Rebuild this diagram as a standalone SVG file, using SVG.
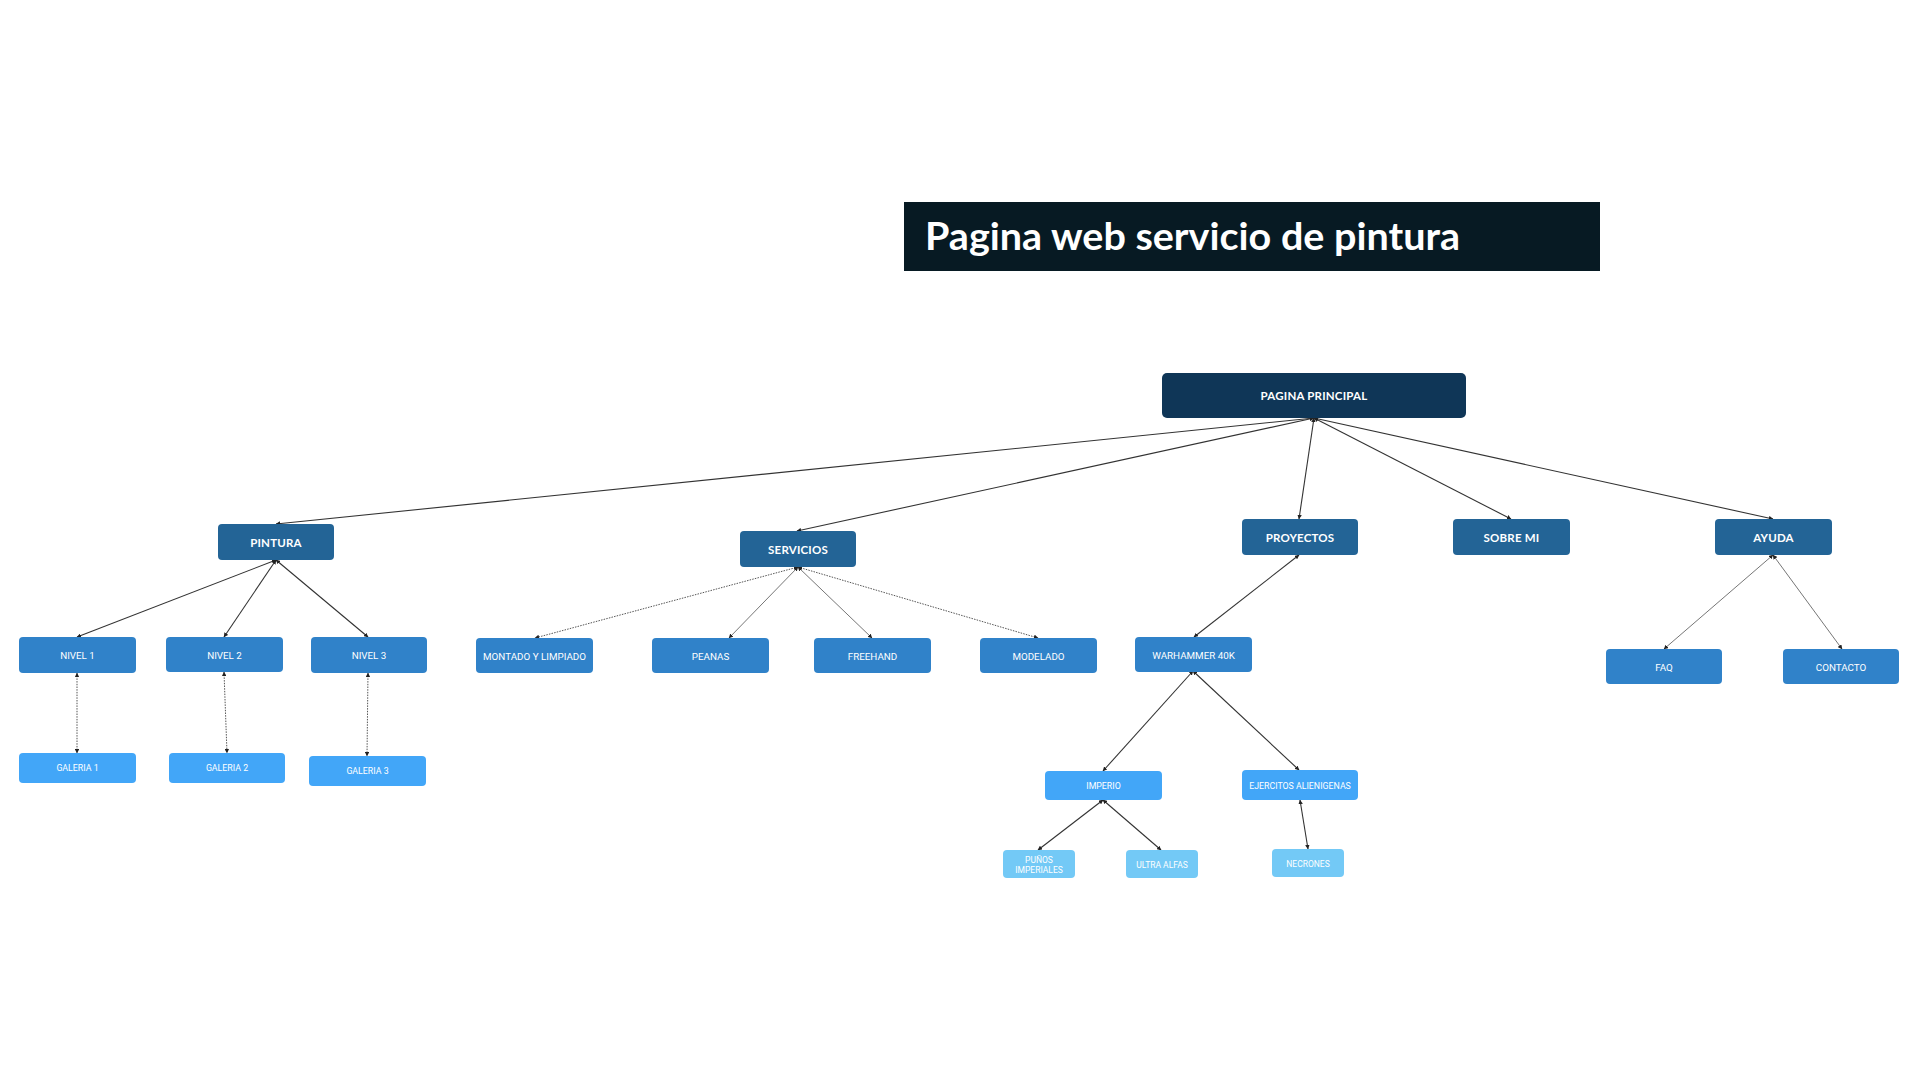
<svg xmlns="http://www.w3.org/2000/svg" width="1920" height="1080" viewBox="0 0 1920 1080">
<style>
.t{fill:#fff;text-anchor:middle;dominant-baseline:central}
.b{font-family:Lato,"Open Sans",sans-serif;font-weight:700;font-size:11.5px;letter-spacing:0.2px}
.r{font-family:Roboto,"Liberation Sans",sans-serif;font-size:9.8px}
.s{font-family:Roboto,"Liberation Sans",sans-serif;font-size:8.8px}
.xs{font-family:Roboto,"Liberation Sans",sans-serif;font-size:8.5px}
.c1{fill:#0f3657}.c2{fill:#236496}.c3{fill:#3082c9}.c4{fill:#42a6f8}.c5{fill:#73c9f6}
.ln{fill:none;stroke:#333;stroke-width:1.1;marker-end:url(#ah);marker-start:url(#as)}
.lg{fill:none;stroke:#666;stroke-width:0.9;marker-end:url(#ah);marker-start:url(#as)}
.ld{fill:none;stroke:#555;stroke-width:1;stroke-dasharray:1.5 1.2;marker-end:url(#ah);marker-start:url(#as)}
</style>
<defs>
<marker id="ah" viewBox="0 0 6 6" refX="5.5" refY="3" markerWidth="4.5" markerHeight="4.5" orient="auto" markerUnits="userSpaceOnUse"><path d="M0,0L6,3L0,6z" fill="#222"/></marker>
<marker id="as" viewBox="0 0 6 6" refX="0.5" refY="3" markerWidth="4.5" markerHeight="4.5" orient="auto" markerUnits="userSpaceOnUse"><path d="M6,0L0,3L6,6z" fill="#222"/></marker>
</defs>
<rect width="1920" height="1080" fill="#fff"/>
<g id="title">
<rect x="904" y="202" width="696" height="69" fill="#071a23"/>
<text x="925" y="250" font-family="Lato,'Open Sans',sans-serif" font-weight="700" font-size="38" fill="#fff" textLength="535" lengthAdjust="spacingAndGlyphs">Pagina web servicio de pintura</text>
</g>
<g id="connectors">
<path class="ln" d="M1314,418L276,524"/>
<path class="ln" d="M1314,418L797,531"/>
<path class="ln" d="M1314,418L1299,519"/>
<path class="ln" d="M1314,418L1511,519"/>
<path class="ln" d="M1314,418L1773,519"/>
<path class="ln" d="M276,560L77,637"/>
<path class="ln" d="M276,560L224,637"/>
<path class="ln" d="M276,560L368,637"/>
<path class="ld" d="M77,673L77,753"/>
<path class="ld" d="M224,672L227,753"/>
<path class="ld" d="M368,673L367,756"/>
<path class="ld" d="M798,567L535,638"/>
<path class="lg" d="M798,567L729,638"/>
<path class="lg" d="M798,567L872,638"/>
<path class="ld" d="M798,567L1038,638"/>
<path class="ln" d="M1299,555L1194,637"/>
<path class="ln" d="M1193,671L1103,771"/>
<path class="ln" d="M1193,671L1299,770"/>
<path class="ln" d="M1103,800L1038,850"/>
<path class="ln" d="M1103,800L1161,850"/>
<path class="ln" d="M1300,800L1308,849"/>
<path class="lg" d="M1773,555L1664,649"/>
<path class="lg" d="M1773,555L1842,649"/>
</g>
<g id="n-principal"><rect class="c1" x="1162" y="373" width="304" height="45" rx="5"/><text class="t b" x="1314" y="395.5">PAGINA PRINCIPAL</text></g>
<g id="n-pintura"><rect class="c2" x="218" y="524" width="116" height="36" rx="4"/><text class="t b" x="276" y="542">PINTURA</text></g>
<g id="n-servicios"><rect class="c2" x="740" y="531" width="116" height="36" rx="4"/><text class="t b" x="798" y="549">SERVICIOS</text></g>
<g id="n-proyectos"><rect class="c2" x="1242" y="519" width="116" height="36" rx="4"/><text class="t b" x="1300" y="537">PROYECTOS</text></g>
<g id="n-sobremi"><rect class="c2" x="1453" y="519" width="117" height="36" rx="4"/><text class="t b" x="1511.5" y="537">SOBRE MI</text></g>
<g id="n-ayuda"><rect class="c2" x="1715" y="519" width="117" height="36" rx="4"/><text class="t b" x="1773.5" y="537">AYUDA</text></g>
<g id="n-nivel1"><rect class="c3" x="19" y="637" width="117" height="36" rx="4"/><text class="t r" x="77.5" y="655">NIVEL 1</text></g>
<g id="n-nivel2"><rect class="c3" x="166" y="637" width="117" height="35" rx="4"/><text class="t r" x="224.5" y="655">NIVEL 2</text></g>
<g id="n-nivel3"><rect class="c3" x="311" y="637" width="116" height="36" rx="4"/><text class="t r" x="369" y="655">NIVEL 3</text></g>
<g id="n-galeria1"><rect class="c4" x="19" y="753" width="117" height="30" rx="4"/><text class="t s" x="77.5" y="768">GALERIA 1</text></g>
<g id="n-galeria2"><rect class="c4" x="169" y="753" width="116" height="30" rx="4"/><text class="t s" x="227" y="768">GALERIA 2</text></g>
<g id="n-galeria3"><rect class="c4" x="309" y="756" width="117" height="30" rx="4"/><text class="t s" x="367.5" y="771">GALERIA 3</text></g>
<g id="n-montado"><rect class="c3" x="476" y="638" width="117" height="35" rx="4"/><text class="t r" x="534.5" y="656">MONTADO Y LIMPIADO</text></g>
<g id="n-peanas"><rect class="c3" x="652" y="638" width="117" height="35" rx="4"/><text class="t r" x="710.5" y="656">PEANAS</text></g>
<g id="n-freehand"><rect class="c3" x="814" y="638" width="117" height="35" rx="4"/><text class="t r" x="872.5" y="656">FREEHAND</text></g>
<g id="n-modelado"><rect class="c3" x="980" y="638" width="117" height="35" rx="4"/><text class="t r" x="1038.5" y="656">MODELADO</text></g>
<g id="n-warhammer"><rect class="c3" x="1135" y="637" width="117" height="35" rx="4"/><text class="t r" x="1193.5" y="655">WARHAMMER 40K</text></g>
<g id="n-faq"><rect class="c3" x="1606" y="649" width="116" height="35" rx="4"/><text class="t r" x="1664" y="667">FAQ</text></g>
<g id="n-contacto"><rect class="c3" x="1783" y="649" width="116" height="35" rx="4"/><text class="t r" x="1841" y="667">CONTACTO</text></g>
<g id="n-imperio"><rect class="c4" x="1045" y="771" width="117" height="29" rx="4"/><text class="t s" x="1103.5" y="786">IMPERIO</text></g>
<g id="n-ejercitos"><rect class="c4" x="1242" y="770" width="116" height="30" rx="4"/><text class="t s" x="1300" y="785.5">EJERCITOS ALIENIGENAS</text></g>
<g id="n-punos"><rect class="c5" x="1003" y="850" width="72" height="28" rx="4"/><text class="t xs" x="1039" y="859.5">PUÑOS</text><text class="t xs" x="1039" y="869.5">IMPERIALES</text></g>
<g id="n-ultra"><rect class="c5" x="1126" y="850" width="72" height="28" rx="4"/><text class="t xs" x="1162" y="864.5">ULTRA ALFAS</text></g>
<g id="n-necrones"><rect class="c5" x="1272" y="849" width="72" height="28" rx="4"/><text class="t xs" x="1308" y="863.5">NECRONES</text></g>
</svg>
